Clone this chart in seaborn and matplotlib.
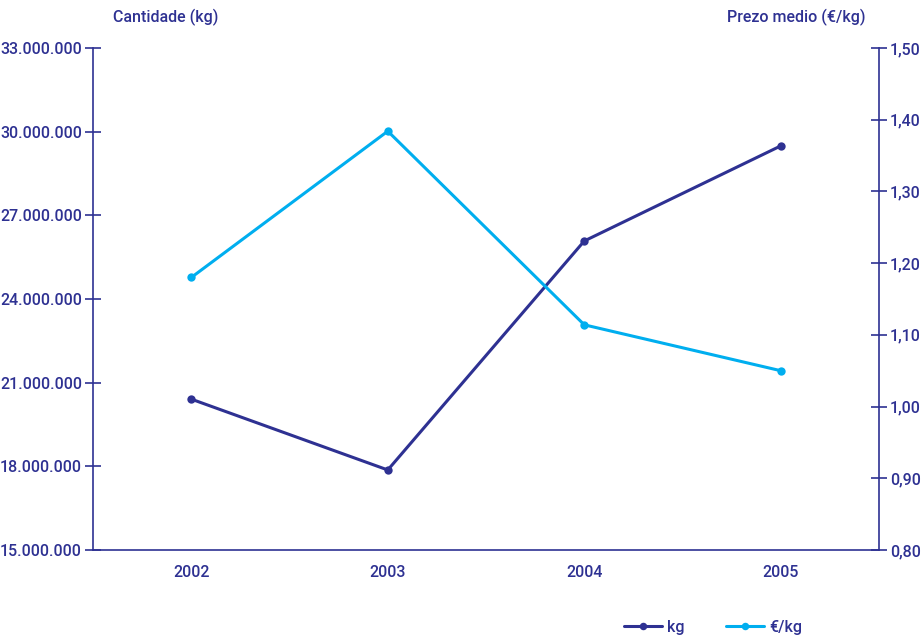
import numpy as np
import pandas as pd
import matplotlib
matplotlib.use('Agg')
import matplotlib.pyplot as plt
from matplotlib.ticker import FuncFormatter, FixedLocator
import seaborn as sns

# Data
years = ['2002', '2003', '2004', '2005']
kg = [20410000, 17870000, 26080000, 29490000]
price = [1.18, 1.384, 1.114, 1.05]

navy = '#2E3192'
cyan = '#00AEEF'

sns.set_style('white')
plt.rcParams['font.family'] = ['Roboto', 'DejaVu Sans']
plt.rcParams['font.weight'] = 'medium'
plt.rcParams['text.color'] = navy
plt.rcParams['xtick.color'] = navy
plt.rcParams['ytick.color'] = navy

df = pd.DataFrame({'pos': np.arange(len(years)), 'Ano': years,
                   'kg': kg, 'price': price})

fig = plt.figure(figsize=(9.22, 6.38), dpi=100)
ax = fig.add_axes([0.1009, 0.1379, 0.8525, 0.7869])
ax2 = ax.twinx()

sns.lineplot(data=df, x='pos', y='kg', ax=ax, color=navy, lw=2.2,
             marker='o', markersize=6, markeredgewidth=0, label='kg', legend=False)
sns.lineplot(data=df, x='pos', y='price', ax=ax2, color=cyan, lw=2.2,
             marker='o', markersize=6, markeredgewidth=0, label='€/kg', legend=False)

ax.set_xlim(-0.5, len(years) - 0.5)
ax.set_ylim(15000000, 33000000)
ax2.set_ylim(0.8, 1.5)
ax.set_yticks(np.arange(15000000, 33000001, 3000000))
ax2.set_yticks(np.arange(0.8, 1.501, 0.1))
ax.yaxis.set_major_formatter(FuncFormatter(lambda v, p: f'{v:,.0f}'.replace(',', '.')))
ax2.yaxis.set_major_formatter(FuncFormatter(lambda v, p: f'{v:.2f}'.replace('.', ',')))

fs = 11.5
ax.set_xticks(df['pos'])
ax.set_xticklabels(years)
ax.xaxis.set_minor_locator(FixedLocator(np.arange(-0.5, len(years), 1.0)))
ax.tick_params(axis='x', which='major', length=0, pad=11, labelsize=fs)
ax.tick_params(axis='x', which='minor', direction='inout', length=9, width=1.2, color=navy)
ax.tick_params(axis='y', direction='inout', length=12, width=1.2, color=navy, labelsize=fs, pad=2)
ax2.tick_params(axis='y', direction='inout', length=12, width=1.2, color=navy, labelsize=fs, pad=2)

ax.set_xlabel('')
ax.set_ylabel('')
ax2.set_ylabel('')
for a in (ax, ax2):
    a.spines['top'].set_visible(False)
    for s in ('left', 'right', 'bottom'):
        a.spines[s].set_color(navy)
        a.spines[s].set_linewidth(1.2)
ax.spines['right'].set_visible(False)
ax2.spines['left'].set_visible(False)
ax2.spines['bottom'].set_visible(False)

fig.text(0.18, 0.972, 'Cantidade (kg)', ha='center', va='center', fontsize=fs)
fig.text(0.864, 0.972, 'Prezo medio (€/kg)', ha='center', va='center', fontsize=fs)

h1, l1 = ax.get_legend_handles_labels()
h2, l2 = ax2.get_legend_handles_labels()
fig.legend(h1 + h2, l1 + l2, loc='center', bbox_to_anchor=(0.773, 0.017), ncol=2,
           frameon=False, fontsize=fs, handlelength=2.4, columnspacing=2.6,
           handletextpad=0.3, markerscale=0.9)

fig.savefig('out.png', dpi=100)
